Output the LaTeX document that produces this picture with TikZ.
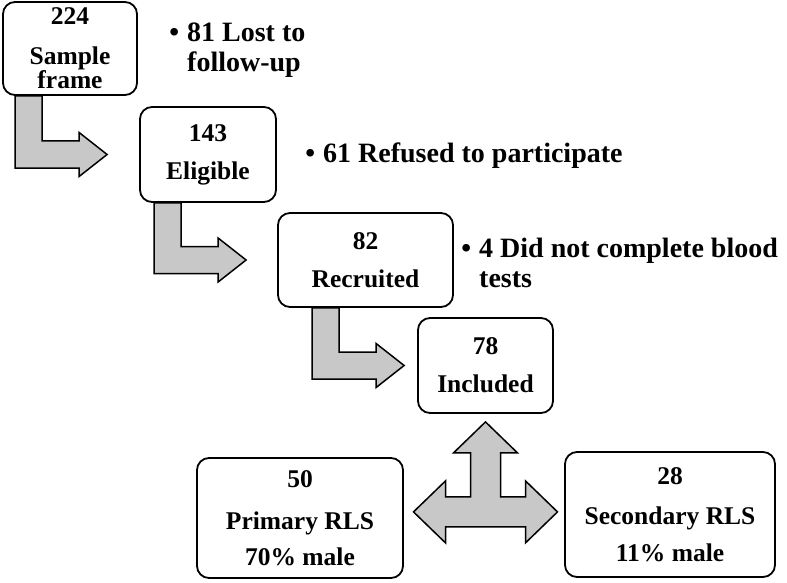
\documentclass[tikz,border=0pt]{standalone}
\usepackage{fontspec}
\setmainfont{Liberation Serif}
\usetikzlibrary{calc}
\definecolor{arrowgray}{RGB}{200,200,200}
\tikzstyle{box}=[shape=rectangle,
                 draw=black,
                 fill=white,
                 rounded corners=12pt,
                 line width=1.8pt,
                 align=center,
                 inner sep=0pt,
                 font=\fontsize{25.5}{24}\selectfont\bfseries]
\tikzstyle{note}=[anchor=north west,
                  align=left,
                  inner sep=0pt,
                  font=\fontsize{28}{30}\selectfont\bfseries]
\tikzstyle{blockarrow}=[draw=black,
                        fill=arrowgray,
                        line width=1.5pt,
                        line join=miter]
% bent block arrow: from below #1 to the left side of #2, stem #3 in from #1's left
\newcommand{\bentarrow}[3]{%
  \coordinate (ba-a) at ($(#1.south west)+(#3,0)$);
  \coordinate (ba-m) at (ba-a |- #2.west);
  \draw[blockarrow] (ba-a) -- ++(27,0) -- ($(ba-m)+(27,-13.5)$) -- ++(37,0)
    -- ++(0,-8.5) -- ($(ba-m)+(92,0)$) -- ($(ba-m)+(64,22)$) -- ++(0,-8.5)
    -- ($(ba-m)+(0,13.5)$) -- cycle;}

\begin{document}
\begin{tikzpicture}[x=1pt,y=-1pt]
\useasboundingbox (0,0) rectangle (787,583);

% flow boxes
\node[box, minimum width=134pt, minimum height=93pt] (frame) at (70,48.5)    {224\\[16pt]Sample\\frame};
\node[box, minimum width=136pt, minimum height=95pt] (elig)  at (208,154.5)  {143\\[14pt]Eligible};
\node[box, minimum width=175pt, minimum height=94pt] (recr)  at (365.5,260)  {82\\[14pt]Recruited};
\node[box, minimum width=135pt, minimum height=95pt] (incl)  at (485.5,365.5) {78\\[14pt]Included};

% subgroup boxes
\node[box, minimum width=206pt, minimum height=120pt] (prim) at (300,518)   {50\\[18pt]Primary RLS\\[12pt]70\% male};
\node[box, minimum width=210pt, minimum height=125pt] (sec)  at (670,514.5) {28\\[16pt]Secondary RLS\\[13pt]11\% male};

% exclusions
\node[note] (lost)    at (187,23)  {\llap{\textbullet\hspace{8pt}}81 Lost to\\follow-up};
\node[note] (refused) at (323,143) {\llap{\textbullet\hspace{8pt}}61 Refused to participate};
\node[note] (blood)   at (479,238) {\llap{\textbullet\hspace{8pt}}4 Did not complete blood\\tests};

% bent arrows between stages
\bentarrow{frame}{elig}{13}
\bentarrow{elig}{recr}{15}
\bentarrow{recr}{incl}{35}

% three-way arrow below included
\coordinate (split) at ($(incl.south)+(0,98)$);
\draw[blockarrow] ($(split)+(-15,-15)$) -- ++(0,-44) -- ++(-17,0) -- ($(split)+(0,-90)$)
  -- ($(split)+(32,-59)$) -- ++(-17,0) -- ($(split)+(15,-15)$) -- ++(25,0) -- ++(0,-16)
  -- ($(split)+(72,0)$) -- ($(split)+(40,31)$) -- ++(0,-16) -- ($(split)+(-40,15)$)
  -- ++(0,16) -- ($(split)+(-72,0)$) -- ($(split)+(-40,-31)$) -- ++(0,16) -- cycle;
\end{tikzpicture}
\end{document}
